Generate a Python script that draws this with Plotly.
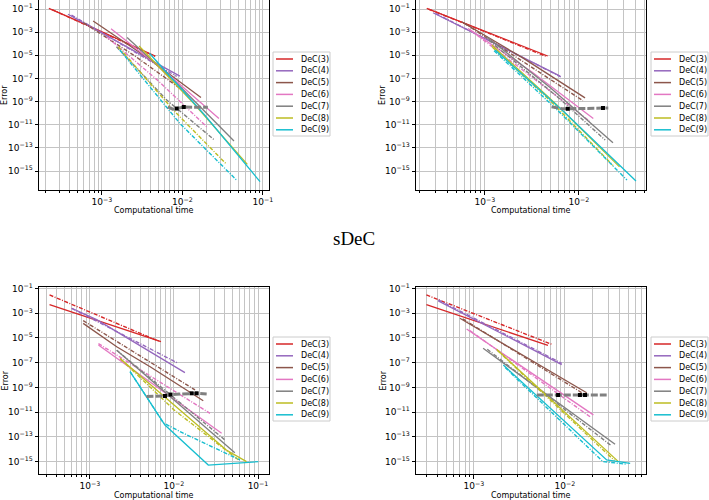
import math
import plotly.graph_objects as go

W, H = 709, 500

ORDERS = ["DeC(3)", "DeC(4)", "DeC(5)", "DeC(6)", "DeC(7)", "DeC(8)", "DeC(9)"]
COLORS = ["#d62728", "#9467bd", "#8c564b", "#e377c2", "#7f7f7f", "#bcbd22", "#17becf"]

# ---------------- top-left panel ----------------
TL_SOLID_T = [
    [2.2e-4, 5.9e-4, 4.6e-3],
    [3.8e-4, 1.84e-3, 9.3e-3],
    [7.8e-4, 3.5e-3, 1.7e-2],
    [1.3e-3, 6.0e-3, 2.84e-2],
    [2.06e-3, 9.5e-3, 4.37e-2],
    [2.9e-3, 1.36e-2, 6.4e-2],
    [3.9e-3, 1.9e-2, 9.2e-2],
]
TL_SOLID_E = [
    [1.15e-1, 5.8e-3, 8.7e-6],
    [3.5e-2, 7.8e-5, 1.6e-7],
    [9.1e-3, 8.0e-6, 2.3e-9],
    [2.0e-3, 4.5e-7, 3.5e-11],
    [3.5e-4, 1.8e-8, 3.9e-13],
    [6.3e-5, 7.8e-10, 3.8e-15],
    [1.5e-5, 6.6e-11, 1.2e-16],
]
TL_DASH_T = [
    [2.4e-4, 4.6e-3],
    [4.2e-4, 8.5e-3],
    [5.9e-4, 2.5e-3, 1.0e-2],
    [1.15e-3, 5.0e-3, 2.0e-2],
    [1.52e-3, 6.4e-3, 2.5e-2],
    [1.6e-3, 7.7e-3, 3.44e-2],
    [1.67e-3, 9.3e-3, 4.7e-2],
]
TL_DASH_E = [
    [9.0e-2, 8.0e-6],
    [3.0e-2, 1.5e-7],
    [6.6e-3, 1.0e-5, 1.0e-8],
    [4.0e-4, 6.3e-8, 6.8e-12],
    [5.5e-5, 1.35e-9, 4.8e-13],
    [5.5e-5, 1.9e-10, 4.6e-15],
    [2.9e-5, 1.3e-11, 1.66e-16],
]
TL_FLAT_T = [6.6e-3, 7.6e-3, 8.5e-3, 1.04e-2, 1.4e-2, 2.07e-2]
TL_FLAT_E = [3.5e-10, 2.2e-10, 2.5e-10, 3.4e-10, 3.3e-10, 3.3e-10]
TL_MARK_T = [8.5e-3, 1.04e-2]
TL_MARK_E = [2.5e-10, 3.4e-10]

# ---------------- top-right panel ----------------
TR_SOLID_T = [
    [2.4e-4, 4.65e-3],
    [2.8e-4, 6.3e-3],
    [5.65e-4, 2.5e-3, 1.16e-2],
    [6.6e-4, 3.16e-3, 1.42e-2],
    [1.04e-3, 5.0e-3, 2.3e-2],
    [1.18e-3, 5.6e-3, 2.7e-2],
    [1.28e-3, 7.1e-3, 4.04e-2],
]
TR_SOLID_E = [
    [1.15e-1, 8.7e-6],
    [4.8e-2, 1.6e-7],
    [7.9e-3, 6.3e-6, 2.1e-9],
    [2.1e-3, 3.6e-7, 3.5e-11],
    [4.1e-4, 1.5e-8, 2.8e-13],
    [7.8e-5, 7.0e-10, 2.3e-15],
    [2.9e-5, 1.1e-10, 1.35e-16],
]
TR_DASH_T = [
    [2.5e-4, 4.5e-3],
    [3.0e-4, 6.5e-3],
    [6.0e-4, 1.1e-2],
    [7.0e-4, 1.3e-2],
    [1.1e-3, 6.0e-3, 1.9e-2],
    [1.2e-3, 5.0e-3, 2.3e-2],
    [1.25e-3, 6.0e-3, 3.24e-2],
]
TR_DASH_E = [
    [1.0e-1, 8.0e-6],
    [4.0e-2, 1.3e-7],
    [6.0e-3, 1.2e-9],
    [1.5e-3, 2.0e-11],
    [2.0e-4, 2.3e-9, 4.8e-13],
    [5.0e-5, 1.1e-9, 3.0e-15],
    [2.5e-5, 1.6e-10, 1.66e-16],
]
TR_FLAT_T = [5.1e-3, 6.5e-3, 7.6e-3, 1.2e-2, 1.8e-2, 2.05e-2]
TR_FLAT_E = [3.5e-10, 2.5e-10, 2.4e-10, 2.6e-10, 2.8e-10, 2.8e-10]
TR_MARK_T = [7.6e-3, 1.8e-2]
TR_MARK_E = [2.4e-10, 2.8e-10]

# ---------------- bottom-left panel (sDeC) ----------------
BL_SOLID_T = [
    [3.3e-4, 7.0e-3],
    [6.05e-4, 1.2e-3, 1.35e-2],
    [8.3e-4, 2.08e-3, 5.2e-3, 2.23e-2],
    [1.26e-3, 3.69e-2],
    [2.08e-3, 5.3e-2],
    [2.28e-3, 4.2e-2, 7.3e-2],
    [3.0e-3, 7.8e-3, 2.56e-2, 1.01e-1],
]
BL_SOLID_E = [
    [5.0e-3, 5.0e-6],
    [2.5e-3, 3.0e-4, 1.55e-8],
    [1.5e-4, 1.95e-6, 4.7e-8, 8.3e-11],
    [2.7e-6, 1.95e-13],
    [1.0e-6, 5.2e-15],
    [2.2e-7, 8.5e-15, 9.8e-16],
    [1.9e-8, 9.0e-13, 5.2e-16, 9.8e-16],
]
BL_DASH_T = [
    [3.3e-4, 6.8e-3],
    [6.05e-4, 1.12e-2],
    [8.3e-4, 1.78e-2],
    [1.26e-3, 2.68e-2],
    [2.08e-3, 4.05e-2],
    [2.28e-3, 1.0e-2, 6.0e-2],
    [3.0e-3, 7.5e-3, 1.29e-2, 6.1e-2],
]
BL_DASH_E = [
    [3.0e-2, 5.0e-6],
    [2.5e-3, 8.9e-8],
    [2.5e-4, 6.2e-10],
    [3.5e-6, 7.9e-12],
    [1.0e-6, 5.5e-14],
    [2.2e-7, 1.5e-11, 1.2e-15],
    [1.9e-8, 1.3e-12, 1.95e-13, 1.35e-15],
]
BL_FLAT_T = [4.7e-3, 7.8e-3, 9.1e-3, 1.62e-2, 1.86e-2, 2.45e-2]
BL_FLAT_E = [1.8e-10, 2.0e-10, 2.6e-10, 3.3e-10, 3.3e-10, 2.9e-10]
BL_MARK_T = [7.8e-3, 9.1e-3, 1.62e-2, 1.86e-2]
BL_MARK_E = [2.0e-10, 2.6e-10, 3.3e-10, 3.3e-10]

# ---------------- bottom-right panel (sDeC) ----------------
BR_SOLID_T = [
    [3.0e-4, 6.5e-3],
    [4.05e-4, 9.2e-3],
    [7.0e-4, 1.73e-2],
    [8.3e-4, 2.05e-2],
    [1.26e-3, 3.55e-2],
    [1.77e-3, 3.86e-2],
    [2.1e-3, 2.87e-2, 5.2e-2],
]
BR_SOLID_E = [
    [5.0e-3, 2.5e-6],
    [1.0e-2, 7.0e-8],
    [3.9e-4, 3.7e-10],
    [5.2e-5, 5.9e-12],
    [1.45e-6, 2.5e-14],
    [1.2e-6, 9.8e-16],
    [6.5e-8, 1.35e-15, 7.2e-16],
]
BR_DASH_T = [
    [3.0e-4, 7.1e-3],
    [4.05e-4, 9.2e-3],
    [7.5e-4, 1.6e-2],
    [9.0e-4, 1.9e-2],
    [1.4e-3, 3.2e-2],
    [1.8e-3, 3.5e-2],
    [2.2e-3, 2.6e-2, 4.8e-2],
]
BR_DASH_E = [
    [3.0e-2, 3.1e-6],
    [1.2e-2, 8.9e-8],
    [3.5e-4, 3.0e-10],
    [4.0e-5, 4.0e-12],
    [1.2e-6, 2.0e-14],
    [1.0e-6, 1.2e-15],
    [4.0e-8, 1.0e-15, 6.0e-16],
]
BR_FLAT_T = [4.9e-3, 8.4e-3, 1.46e-2, 1.66e-2, 2.87e-2]
BR_FLAT_E = [2.4e-10, 2.4e-10, 2.4e-10, 2.4e-10, 2.4e-10]
BR_MARK_T = [8.4e-3, 1.46e-2, 1.66e-2]
BR_MARK_E = [2.4e-10, 2.4e-10, 2.4e-10]

Y_TICK_EXP = [-1, -3, -5, -7, -9, -11, -13, -15]
X_TICK_EXP = [-4, -3, -2, -1]

# layout geometry in pixels (left, right, top, bottom), log ranges, legend box
PANELS = [
    dict(st=TL_SOLID_T, se=TL_SOLID_E, dt=TL_DASH_T, de=TL_DASH_E,
         ft=TL_FLAT_T, fe=TL_FLAT_E, mt=TL_MARK_T, me=TL_MARK_E,
         box=(39, 269, 0, 190), xr=[-3.78, -0.925], yr=[-16.64, -0.22], leg=(273, 52)),
    dict(st=TR_SOLID_T, se=TR_SOLID_E, dt=TR_DASH_T, de=TR_DASH_E,
         ft=TR_FLAT_T, fe=TR_FLAT_E, mt=TR_MARK_T, me=TR_MARK_E,
         box=(416, 646, 0, 190), xr=[-3.734, -1.287], yr=[-16.64, -0.22], leg=(651, 52)),
    dict(st=BL_SOLID_T, se=BL_SOLID_E, dt=BL_DASH_T, de=BL_DASH_E,
         ft=BL_FLAT_T, fe=BL_FLAT_E, mt=BL_MARK_T, me=BL_MARK_E,
         box=(39, 269, 287, 474), xr=[-3.607, -0.869], yr=[-16.01, -0.88], leg=(273, 337)),
    dict(st=BR_SOLID_T, se=BR_SOLID_E, dt=BR_DASH_T, de=BR_DASH_E,
         ft=BR_FLAT_T, fe=BR_FLAT_E, mt=BR_MARK_T, me=BR_MARK_E,
         box=(416, 646, 287, 474), xr=[-3.637, -1.11], yr=[-16.01, -0.88], leg=(651, 337)),
]

GRID = "#c4c4c4"
TICKFONT = dict(family="DejaVu Sans", size=9, color="black")


def sup(e):
    return "10<sup>\u2212%d</sup>" % (-e)


fig = go.Figure()
shapes = []
annotations = []

for k, p in enumerate(PANELS):
    n = "" if k == 0 else str(k + 1)
    xa, ya = "x" + n, "y" + n
    for i in range(len(ORDERS)):
        fig.add_trace(go.Scatter(x=p["st"][i], y=p["se"][i], mode="lines",
                                 line=dict(color=COLORS[i], width=1.3),
                                 xaxis=xa, yaxis=ya, showlegend=False, name=ORDERS[i]))
        fig.add_trace(go.Scatter(x=p["dt"][i], y=p["de"][i], mode="lines",
                                 line=dict(color=COLORS[i], width=1.4, dash="4px,1.5px,1px,1.5px"),
                                 xaxis=xa, yaxis=ya, showlegend=False, name=ORDERS[i]))
    fig.add_trace(go.Scatter(x=p["ft"], y=p["fe"], mode="lines",
                             line=dict(color="#808080", width=3, dash="7px,2px"),
                             xaxis=xa, yaxis=ya, showlegend=False))
    fig.add_trace(go.Scatter(x=p["mt"], y=p["me"], mode="markers",
                             marker=dict(symbol="square", size=4, color="black"),
                             xaxis=xa, yaxis=ya, showlegend=False))

    l, r, t, b = p["box"]
    lo, hi = p["xr"]
    major_exp = [e for e in X_TICK_EXP if lo <= e <= hi]
    minor = []
    for e in X_TICK_EXP:
        for m in range(2, 10):
            v = m * 10.0 ** e
            if lo <= math.log10(v) <= hi:
                minor.append(v)
    xaxis = dict(type="log", domain=[l / W, r / W], range=p["xr"], anchor=ya,
                 tickmode="array", tickvals=[10.0 ** e for e in major_exp],
                 ticktext=[sup(e) for e in major_exp],
                 ticks="outside", ticklen=3.5, tickwidth=1, tickcolor="black",
                 showgrid=True, gridcolor=GRID, gridwidth=1,
                 minor=dict(tickmode="array", tickvals=minor, ticks="outside", ticklen=2,
                            tickwidth=0.8, tickcolor="black", showgrid=True,
                            gridcolor=GRID, gridwidth=1),
                 showline=True, mirror=True, linecolor="black", linewidth=1,
                 tickfont=TICKFONT, zeroline=False)
    yaxis = dict(type="log", domain=[1 - b / H, 1 - t / H], range=p["yr"], anchor=xa,
                 tickmode="array", tickvals=[10.0 ** e for e in Y_TICK_EXP],
                 ticktext=[sup(e) for e in Y_TICK_EXP],
                 ticks="outside", ticklen=3.5, tickwidth=1, tickcolor="black",
                 showgrid=True, gridcolor=GRID, gridwidth=1,
                 showline=True, mirror=True, linecolor="black", linewidth=1,
                 tickfont=TICKFONT, zeroline=False)
    fig.update_layout(**{"xaxis" + n: xaxis, "yaxis" + n: yaxis})

    # axis labels
    annotations.append(dict(text="Computational time", x=(l + r) / 2 / W, y=1 - (b + 21) / H,
                            xref="paper", yref="paper", showarrow=False,
                            font=dict(family="DejaVu Sans", size=8, color="black"),
                            xanchor="center", yanchor="middle"))
    ex = 5 if l < 100 else 383
    annotations.append(dict(text="Error", x=ex / W, y=1 - (t + b) / 2 / H,
                            xref="paper", yref="paper", showarrow=False, textangle=-90,
                            font=dict(family="DejaVu Sans", size=8, color="black"),
                            xanchor="center", yanchor="middle"))

    # manual legend (matplotlib style)
    lx, ly = p["leg"]
    shapes.append(dict(type="rect", xref="paper", yref="paper",
                       x0=lx / W, x1=(lx + 57) / W, y0=1 - (ly + 84) / H, y1=1 - ly / H,
                       line=dict(color="#cccccc", width=1), fillcolor="rgba(255,255,255,0.85)",
                       layer="above"))
    for i, name in enumerate(ORDERS):
        yy = ly + 7 + i * 11.8
        shapes.append(dict(type="line", xref="paper", yref="paper",
                           x0=(lx + 3) / W, x1=(lx + 20) / W, y0=1 - yy / H, y1=1 - yy / H,
                           line=dict(color=COLORS[i], width=1.5), layer="above"))
        annotations.append(dict(text=name, x=(lx + 26) / W, y=1 - yy / H,
                                xref="paper", yref="paper", showarrow=False,
                                font=dict(family="DejaVu Sans", size=8, color="black"),
                                xanchor="left", yanchor="middle"))

annotations.append(dict(text="sDeC", x=354 / W, y=1 - 238 / H, xref="paper", yref="paper",
                        showarrow=False, font=dict(family="Liberation Serif", size=19, color="black"),
                        xanchor="center", yanchor="middle"))

fig.update_layout(width=W, height=H,
                  margin=dict(l=0, r=0, t=0, b=0, pad=0, autoexpand=False),
                  paper_bgcolor="white", plot_bgcolor="white",
                  shapes=shapes, annotations=annotations, showlegend=False)

fig.write_html("out.html", config={"displayModeBar": False},
               post_script="document.body.style.margin='0';document.body.style.overflow='hidden';")
